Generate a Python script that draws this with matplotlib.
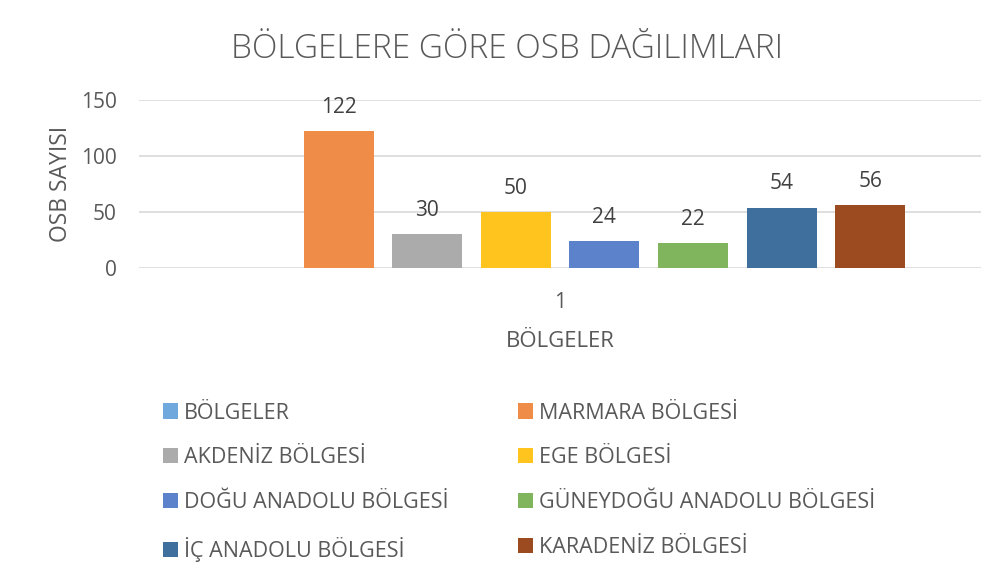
import numpy as np
import matplotlib
matplotlib.use('Agg')
import matplotlib.pyplot as plt

plt.rcParams['font.family'] = ['Open Sans', 'DejaVu Sans']

SERIES = ['BÖLGELER', 'MARMARA BÖLGESİ', 'AKDENİZ BÖLGESİ', 'EGE BÖLGESİ',
          'DOĞU ANADOLU BÖLGESİ', 'GÜNEYDOĞU ANADOLU BÖLGESİ',
          'İÇ ANADOLU BÖLGESİ', 'KARADENİZ BÖLGESİ']
VALUES = [np.nan, 122, 30, 50, 24, 22, 54, 56]  # first series has no value
COLORS = ['#6FA8DC', '#EE8C48', '#ABABAB', '#FFC41E',
          '#5B82CA', '#80B55E', '#3F6F9C', '#9C4A20']
CATEGORY = 1
Y_TICKS = [0, 50, 100, 150]

TEXT_COLOR = '#595959'
GRID_COLOR = '#D9D9D9'

fig = plt.figure(figsize=(10.01, 5.81), dpi=100)
ax = fig.add_axes([0.1389, 0.5387, 0.8412, 0.2892])

slot = 0.1052
width = 0.0831
n = len(SERIES)
handles = []
for i, (name, val, col) in enumerate(zip(SERIES, VALUES, COLORS)):
    x = CATEGORY + (i - (n - 1) / 2) * slot
    h = val if not np.isnan(val) else 0
    bar = ax.bar(x, h, width=width, color=col, label=name, zorder=3)
    handles.append(bar)
    if not np.isnan(val):
        ax.text(x, val + 12, f'{val:g}', ha='center', va='bottom',
                fontsize=15, color='#404040')

ax.set_xlim(CATEGORY - 0.5, CATEGORY + 0.5)
ax.set_ylim(0, 150)
ax.set_yticks(Y_TICKS)
ax.set_xticks([CATEGORY])
ax.set_xticklabels(['1'])
ax.tick_params(axis='both', length=0, labelsize=15, colors=TEXT_COLOR)
ax.tick_params(axis='x', pad=17)
ax.tick_params(axis='y', pad=16)
ax.grid(axis='y', color=GRID_COLOR, linewidth=1.2, zorder=0)
for s in ax.spines.values():
    s.set_visible(False)

ax.set_ylabel('OSB SAYISI', fontsize=16.5, color=TEXT_COLOR, labelpad=6)
ax.set_xlabel('BÖLGELER', fontsize=16, color=TEXT_COLOR, labelpad=13)

fig.text(0.507, 0.915, 'BÖLGELERE GÖRE OSB DAĞILIMLARI', ha='center',
         va='center', fontsize=24, color=TEXT_COLOR, fontweight='light')

# legend: row-wise order in two columns
order = [0, 2, 4, 6, 1, 3, 5, 7]
leg = fig.legend([handles[k] for k in order], [SERIES[k] for k in order],
                 ncol=2, loc='upper left', bbox_to_anchor=(0.154, 0.322),
                 frameon=False, fontsize=15.5, handlelength=0.7,
                 handleheight=0.7, handletextpad=0.3, columnspacing=3.2,
                 labelspacing=1.1, borderaxespad=0)
for t in leg.get_texts():
    t.set_color(TEXT_COLOR)

fig.savefig('out.png', dpi=100)
